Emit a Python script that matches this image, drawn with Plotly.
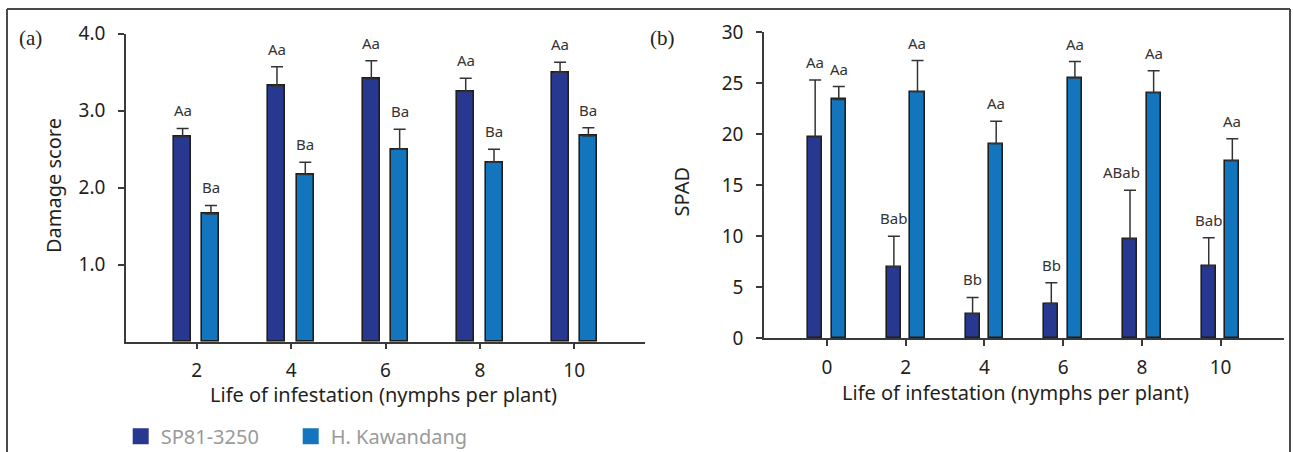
import plotly.graph_objects as go

# ---------------- data ----------------
levels_a = [2, 4, 6, 8, 10]
damage_sp = [2.66, 3.32, 3.41, 3.25, 3.50]
damage_sp_se = [0.11, 0.25, 0.24, 0.17, 0.13]
damage_hk = [1.66, 2.17, 2.50, 2.33, 2.67]
damage_hk_se = [0.11, 0.16, 0.26, 0.17, 0.11]
damage_sp_letters = ["Aa", "Aa", "Aa", "Aa", "Aa"]
damage_hk_letters = ["Ba", "Ba", "Ba", "Ba", "Ba"]

levels_b = [0, 2, 4, 6, 8, 10]
spad_sp = [19.7, 7.0, 2.4, 3.4, 9.7, 7.1]
spad_sp_se = [5.6, 3.0, 1.6, 2.05, 4.8, 2.75]
spad_hk = [23.4, 24.15, 19.05, 25.5, 24.05, 17.4]
spad_hk_se = [1.25, 3.05, 2.2, 1.6, 2.15, 2.15]
spad_sp_letters = ["Aa", "Bab", "Bb", "Bb", "ABab", "Bab"]
spad_hk_letters = ["Aa", "Aa", "Aa", "Aa", "Aa", "Aa"]

series_names = ["SP81-3250", "H. Kawandang"]
series_colors = ["#28378f", "#1275bd"]

yticks_a = [1, 2, 3, 4]
yticklabels_a = ["1.0", "2.0", "3.0", "4.0"]
yticks_b = [0, 5, 10, 15, 20, 25, 30]

x_title = "Life of infestation (nymphs per plant)"
y_title_a = "Damage score"
y_title_b = "SPAD"

# ---------------- style ----------------
FONT = "Noto Sans"
AX = "#3a3a3a"
TXT = "#231f20"
BAR_W = 0.36
OFFS = [-0.48, 0.12]          # left edges relative to category
CENTER = [-0.30, 0.30]

W, H = 1293, 452
def px_x(p):            # pixel -> paper fraction
    return p / W
def px_y(p):
    return (H - p) / H

fig = go.Figure()

panels = [
    dict(xa="x", ya="y", levels=levels_a,
         vals=[damage_sp, damage_hk], ses=[damage_sp_se, damage_hk_se],
         letters=[damage_sp_letters, damage_hk_letters]),
    dict(xa="x2", ya="y2", levels=levels_b,
         vals=[spad_sp, spad_hk], ses=[spad_sp_se, spad_hk_se],
         letters=[spad_sp_letters, spad_hk_letters]),
]

for p in panels:
    for i in range(2):
        fig.add_trace(go.Bar(
            x=p["levels"], y=p["vals"][i], xaxis=p["xa"], yaxis=p["ya"],
            width=BAR_W, offset=OFFS[i],
            marker=dict(color=series_colors[i], line=dict(color="#1e1e1e", width=1.6)),
            error_y=dict(type="data", symmetric=False, array=p["ses"][i],
                         arrayminus=[0] * len(p["levels"]),
                         color="#333333", thickness=1.5, width=6),
            showlegend=False, name=series_names[i],
        ))
        for xv, v, s, lab in zip(p["levels"], p["vals"][i], p["ses"][i], p["letters"][i]):
            fig.add_annotation(
                x=xv + CENTER[i], y=v + s, xref=p["xa"], yref=p["ya"],
                text=lab, showarrow=False, yanchor="middle", yshift=18,
                xshift=-9 * max(0, len(lab) - 3),
                font=dict(family=FONT, size=15, color="#333333"),
            )

# legend entries (one legend box per series so each can be placed exactly)
legend_ids = ["legend", "legend2"]
for i in range(2):
    fig.add_trace(go.Scatter(
        x=[None], y=[None], mode="markers", name=series_names[i],
        marker=dict(symbol="square", size=16, color=series_colors[i]),
        xaxis="x", yaxis="y", showlegend=True, legend=legend_ids[i],
    ))

common_axis = dict(showline=True, linecolor=AX, linewidth=1.5, ticks="outside",
                   tickcolor=AX, tickwidth=1.5, ticklen=6, showgrid=False,
                   zeroline=False, tickfont=dict(family=FONT, size=19, color=TXT))
title_font = dict(family=FONT, size=20, color=TXT)

dom_xa = [px_x(126), px_x(645)]
dom_xb = [px_x(764), px_x(1283.5)]
dom_ya = [px_y(341.7), px_y(33.7)]
dom_yb = [px_y(338.3), px_y(32)]

inner = dict(ticks="inside", ticklen=6, tickcolor=AX, tickwidth=1.5,
             showticklabels=False, showline=False, showgrid=False, zeroline=False)

legend_style = dict(orientation="h", xanchor="left", yanchor="middle",
                    font=dict(family=FONT, size=20, color="#9a9a9a"),
                    itemsizing="trace", bgcolor="rgba(0,0,0,0)")

fig.update_layout(
    width=W, height=H,
    margin=dict(l=0, r=0, t=0, b=0, autoexpand=False),
    paper_bgcolor="white", plot_bgcolor="white",
    xaxis=dict(common_axis, domain=dom_xa, range=[0.5, 11.5], anchor="y",
               tickvals=levels_a, ticklabelstandoff=5),
    yaxis=dict(common_axis, domain=dom_ya, range=[0, 4], anchor="x",
               tickvals=yticks_a, ticktext=yticklabels_a, ticklabelstandoff=9),
    xaxis2=dict(common_axis, domain=dom_xb, range=[-1.6, 11.6], anchor="y2",
                tickvals=levels_b, ticklabelstandoff=5),
    yaxis2=dict(common_axis, domain=dom_yb, range=[0, 30], anchor="x2",
                tickvals=yticks_b, ticklabelstandoff=9),
    xaxis3=dict(inner, overlaying="x", anchor="y", range=[0.5, 11.5], tickvals=levels_a),
    yaxis3=dict(inner, overlaying="y", anchor="x", range=[0, 4], tickvals=yticks_a),
    xaxis4=dict(inner, overlaying="x2", anchor="y2", range=[-1.6, 11.6], tickvals=levels_b),
    yaxis4=dict(inner, overlaying="y2", anchor="x2", range=[0, 30], tickvals=yticks_b),
    showlegend=True,
    legend=dict(legend_style, x=px_x(120.7), y=px_y(436.3)),
    legend2=dict(legend_style, x=px_x(290.7), y=px_y(436.3)),
    bargap=0, barmode="overlay",
)

# axis titles
for txt, cx, cy, ang in ((x_title, 383, 394, 0), (x_title, 1015, 392, 0),
                         (y_title_a, 53, 186, -90), (y_title_b, 681.7, 191.7, -90)):
    fig.add_annotation(x=px_x(cx), y=px_y(cy), xref="paper", yref="paper", text=txt,
                       textangle=ang, xanchor="center", yanchor="middle", showarrow=False,
                       font=title_font)

# panel letters
for txt, cx in (("(a)", 30), ("(b)", 662.5)):
    fig.add_annotation(x=px_x(cx), y=px_y(38), xref="paper", yref="paper", text=txt,
                       xanchor="center", yanchor="middle", showarrow=False,
                       font=dict(family="Liberation Serif", size=21, color=TXT))

# outer frame
frame = dict(type="line", xref="paper", yref="paper", line=dict(color="#4a4a4a", width=2))
fig.add_shape(frame, x0=px_x(7), x1=px_x(1290), y0=px_y(9), y1=px_y(9))
fig.add_shape(frame, x0=px_x(7), x1=px_x(7), y0=px_y(9), y1=0)
fig.add_shape(frame, x0=px_x(1290), x1=px_x(1290), y0=px_y(9), y1=0)

fig.write_html("out.html")
